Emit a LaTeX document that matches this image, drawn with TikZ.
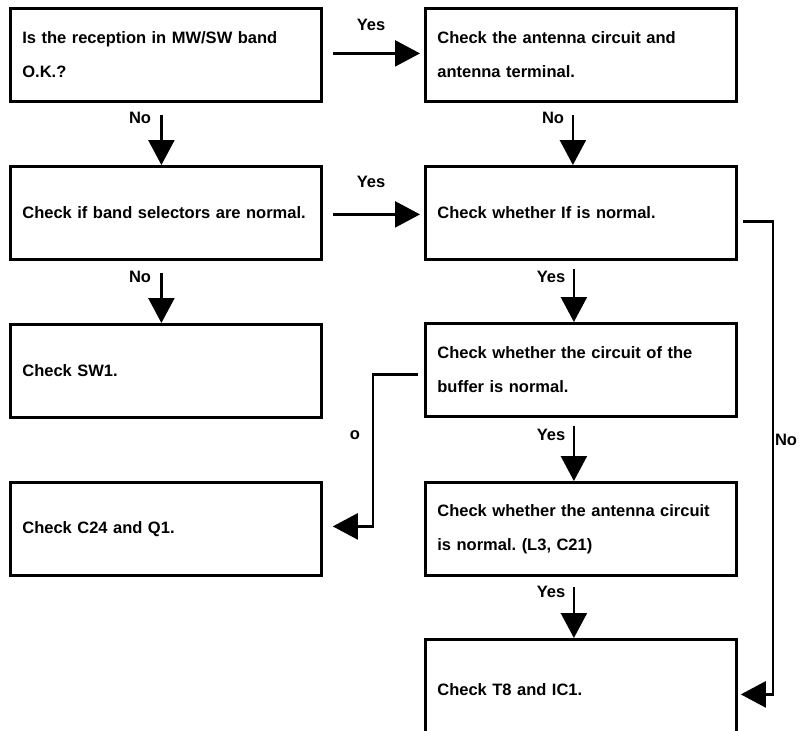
\documentclass[tikz,border=0pt]{standalone}
\usepackage{fontspec}
\setmainfont{Liberation Sans}
\usetikzlibrary{arrows.meta}
\frenchspacing
\begin{document}
\begin{tikzpicture}[x=1pt,y=-1pt,
  box/.style={draw,line width=2.8pt,minimum width=311pt,minimum height=93pt,
    text width=287pt,align=left,inner xsep=12pt,inner ysep=0pt,
    font=\fontsize{16.5}{34}\selectfont\bfseries\frenchspacing,anchor=north west},
  arr/.style={line width=2.4pt,-{Triangle[width=26pt,length=25pt]}},
  lbl/.style={font=\fontsize{16.5}{20}\selectfont\bfseries,inner sep=0pt}]
\useasboundingbox (0,0) rectangle (809,731);
\clip (0,0) rectangle (809,731);
% left column
\node[box] (q1) at (9,7) {Is the reception in MW/SW band\\O.K.?};
\node[box] (bandsel) at (9,165) {Check if band selectors are normal.};
\node[box] (sw1) at (9,323) {Check SW1.};
\node[box] (c24) at (9,481) {Check C24 and Q1.};
% right column
\node[box] (antenna) at (424,7) {Check the antenna circuit and\\antenna terminal.};
\node[box] (ifnorm) at (424,165) {Check whether If is normal.};
\node[box] (buffer) at (424,322) {Check whether the circuit of the\\buffer is normal.};
\node[box] (antnorm) at (424,481) {Check whether the antenna circuit\\is normal. (L3, C21)};
\node[box,minimum height=100pt] (t8) at (424,638) {Check T8 and IC1.};
% horizontal connectors
\draw[arr] ([xshift=10pt,yshift=1.5pt]q1.east) -- ([xshift=-4pt,yshift=1.5pt]antenna.west);
\draw[arr] ([xshift=10pt,yshift=-1.5pt]bandsel.east) -- ([xshift=-4pt,yshift=-1.5pt]ifnorm.west);
% vertical connectors
\draw[arr] ([xshift=-4.5pt,yshift=-12pt]q1.south) -- ([xshift=-4.5pt]bandsel.north);
\draw[arr] ([xshift=-4.5pt,yshift=-12pt]bandsel.south) -- ([xshift=-4.5pt]sw1.north);
\draw[arr] ([xshift=-8pt,yshift=-12pt]antenna.south) -- ([xshift=-8pt]ifnorm.north);
\draw[arr] ([xshift=-7pt,yshift=-8pt]ifnorm.south) -- ([xshift=-7pt]buffer.north);
\draw[arr] ([xshift=-7pt,yshift=-8pt]buffer.south) -- ([xshift=-7pt]antnorm.north);
\draw[arr] ([xshift=-7pt,yshift=-10pt]antnorm.south) -- ([xshift=-7pt]t8.north);
% side connectors
\coordinate (c24in) at ([xshift=10pt,yshift=2.5pt]c24.east);
\draw[arr] ([xshift=-6pt,yshift=-4.5pt]buffer.west) -- ++(-45,0) |- (c24in);
\coordinate (t8in) at ([xshift=3pt,yshift=-5pt]t8.east);
\draw[arr] ([xshift=5pt,yshift=-8.5pt]ifnorm.east) -- ++(30,0) |- (t8in);
% labels
\node[lbl] (l1) at (371,25) {Yes};
\node[lbl] (l2) at (140,118) {No};
\node[lbl] (l3) at (371,182) {Yes};
\node[lbl] (l4) at (553,118) {No};
\node[lbl] (l5) at (140,277) {No};
\node[lbl] (l6) at (551,277) {Yes};
\node[lbl] (l7) at (355,435) {o};
\node[lbl] (l8) at (551,435) {Yes};
\node[lbl] (l9) at (786,440) {No};
\node[lbl] (l10) at (551,592) {Yes};
\end{tikzpicture}
\end{document}
